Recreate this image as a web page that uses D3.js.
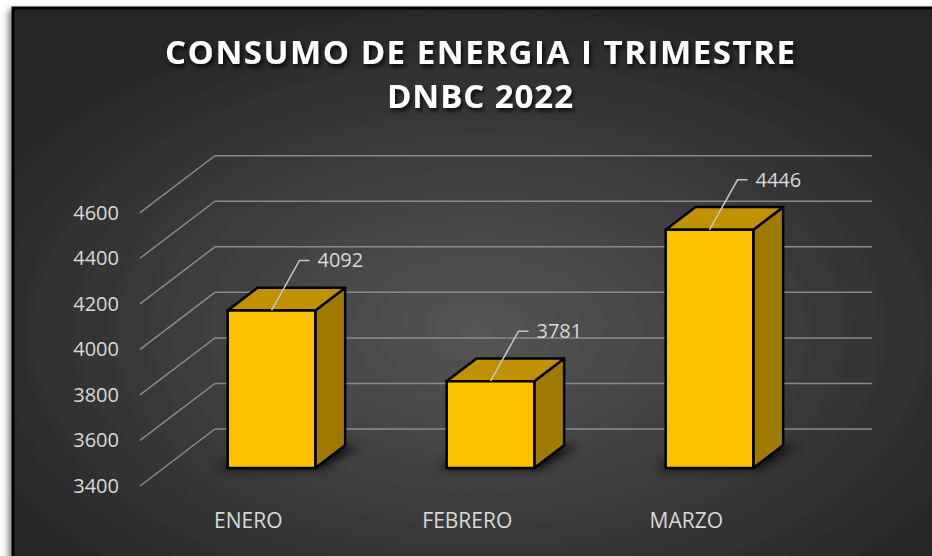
<!DOCTYPE html>
<html>
<head>
<meta charset="utf-8">
<script src="https://cdn.jsdelivr.net/npm/d3@7"></script>
<style>
  html, body { margin: 0; padding: 0; background: #fff; }
  svg { display: block; }
</style>
</head>
<body>
<svg id="chart" width="932" height="556"></svg>
<script>
// chart data
var categories = ["ENERO", "FEBRERO", "MARZO"];
var values = [4092, 3781, 4446];
var yTicks = [3400, 3600, 3800, 4000, 4200, 4400, 4600];
var titleLines = ["CONSUMO DE ENERGIA I TRIMESTRE", "DNBC 2022"];

var W = 932, H = 556;
var svg = d3.select("#chart");
var defs = svg.append("defs");

// background gradient
var grad = defs.append("radialGradient").attr("id", "bg")
    .attr("cx", "50%").attr("cy", "58%").attr("r", "62%");
grad.append("stop").attr("offset", "0%").attr("stop-color", "#555555");
grad.append("stop").attr("offset", "100%").attr("stop-color", "#252525");

var frameShadow = defs.append("filter").attr("id", "frameShadow")
    .attr("x", "-5%").attr("y", "-5%").attr("width", "110%").attr("height", "110%");
frameShadow.append("feDropShadow").attr("dx", -3).attr("dy", 3)
    .attr("stdDeviation", 3).attr("flood-color", "#000").attr("flood-opacity", 0.5);

var textShadow = defs.append("filter").attr("id", "textShadow")
    .attr("x", "-10%").attr("y", "-30%").attr("width", "120%").attr("height", "160%");
textShadow.append("feDropShadow").attr("dx", 2).attr("dy", 3)
    .attr("stdDeviation", 2).attr("flood-color", "#000").attr("flood-opacity", 0.8);

var barShadow = defs.append("filter").attr("id", "barShadow")
    .attr("x", "-30%").attr("y", "-60%").attr("width", "160%").attr("height", "220%");
barShadow.append("feGaussianBlur").attr("stdDeviation", 5);

// chart area frame
svg.append("rect")
    .attr("x", 13).attr("y", 8).attr("width", W).attr("height", H)
    .attr("fill", "url(#bg)")
    .attr("stroke", "#000").attr("stroke-width", 3)
    .attr("filter", "url(#frameShadow)");

// title
var titleWidths = [630, 186];
var title = svg.append("g").attr("filter", "url(#textShadow)");
title.selectAll("text")
    .data(titleLines)
    .enter().append("text")
    .attr("x", 480)
    .attr("y", function (d, i) { return 64 + i * 44; })
    .attr("text-anchor", "middle")
    .attr("fill", "#fff")
    .attr("font-family", "Open Sans, sans-serif")
    .attr("font-weight", "bold")
    .attr("font-size", 33)
    .attr("textLength", function (d, i) { return titleWidths[i]; })
    .attr("lengthAdjust", "spacing")
    .text(function (d) { return d; });

// scales (front plane of the 3D box)
var y = d3.scaleLinear().domain([3400, 4600]).range([486, 212.7]);
var x = d3.scaleBand().domain(categories).range([138.3, 795.3])
    .paddingInner(0.6).paddingOuter(0.3);
var depthX = 75, depthY = -57;
var wallLeft = 140, wallRight = 797;
var f1 = 0.316, f2 = 0.714; // bar front / back depth

function proj(px, v, f) {
    return [px + depthX * f, y(v) + depthY * f];
}

// gridlines: side wall diagonals + back wall horizontals
var grid = svg.append("g")
    .attr("stroke", "#8a8a8a").attr("stroke-width", 1.5).attr("fill", "none");
grid.selectAll("path")
    .data(yTicks)
    .enter().append("path")
    .attr("d", function (d) {
        return d3.line()([proj(wallLeft, d, 0), proj(wallLeft, d, 1), proj(wallRight, d, 1)]);
    });

// y tick labels
svg.append("g").selectAll("text")
    .data(yTicks)
    .enter().append("text")
    .attr("x", 119)
    .attr("y", function (d) { return y(d); })
    .attr("dy", "0.35em")
    .attr("text-anchor", "end")
    .attr("fill", "#d9d9d9")
    .attr("font-family", "Open Sans, sans-serif")
    .attr("font-size", 20)
    .text(function (d) { return d; });

// category labels
svg.append("g").selectAll("text")
    .data(categories)
    .enter().append("text")
    .attr("x", function (d) { return x(d) + x.bandwidth() / 2 + 0.5; })
    .attr("y", 521)
    .attr("dy", "0.35em")
    .attr("text-anchor", "middle")
    .attr("fill", "#d9d9d9")
    .attr("font-family", "Open Sans, sans-serif")
    .attr("font-size", 21)
    .text(function (d) { return d; });

var bars = categories.map(function (c, i) {
    return { cat: c, value: values[i], xa: x(c), xb: x(c) + x.bandwidth() };
});

var base = 3400;
var line = d3.line();

// soft shadows on the floor
svg.append("g").selectAll("path")
    .data(bars)
    .enter().append("path")
    .attr("d", function (d) {
        var p = [proj(d.xa - 12, base, f1 + 0.03), proj(d.xb + 4, base, f1 + 0.03),
                 proj(d.xb + 10, base, f2 + 0.05), proj(d.xa - 6, base, f2 + 0.05)];
        return line(p.map(function (q) { return [q[0], q[1] + 3]; })) + "Z";
    })
    .attr("fill", "#000").attr("opacity", 0.75)
    .attr("filter", "url(#barShadow)");

var barG = svg.append("g").selectAll("g")
    .data(bars)
    .enter().append("g")
    .attr("stroke", "#000").attr("stroke-width", 2.5).attr("stroke-linejoin", "round");

// side face
barG.append("path")
    .attr("d", function (d) {
        return line([proj(d.xb, base, f1), proj(d.xb, d.value, f1),
                     proj(d.xb, d.value, f2), proj(d.xb, base, f2)]) + "Z";
    })
    .attr("fill", "#a07a00");

// top face
barG.append("path")
    .attr("d", function (d) {
        return line([proj(d.xa, d.value, f1), proj(d.xb, d.value, f1),
                     proj(d.xb, d.value, f2), proj(d.xa, d.value, f2)]) + "Z";
    })
    .attr("fill", "#c09100");

// front face
barG.append("path")
    .attr("d", function (d) {
        return line([proj(d.xa, base, f1), proj(d.xb, base, f1),
                     proj(d.xb, d.value, f1), proj(d.xa, d.value, f1)]) + "Z";
    })
    .attr("fill", "#ffc000");

// data labels with leader lines
var labels = svg.append("g").selectAll("g")
    .data(bars)
    .enter().append("g");

labels.append("path")
    .attr("d", function (d) {
        var p = proj((d.xa + d.xb) / 2, d.value, f1);
        var k = [p[0] + 28, p[1] - 50];
        return line([p, k, [k[0] + 10, k[1]]]);
    })
    .attr("fill", "none").attr("stroke", "#c8c8c8").attr("stroke-width", 1.5);

labels.append("text")
    .attr("x", function (d) { return proj((d.xa + d.xb) / 2, d.value, f1)[0] + 46; })
    .attr("y", function (d) { return proj((d.xa + d.xb) / 2, d.value, f1)[1] - 50; })
    .attr("dy", "0.35em")
    .attr("fill", "#d9d9d9")
    .attr("font-family", "Open Sans, sans-serif")
    .attr("font-size", 20)
    .text(function (d) { return d.value; });
</script>
</body>
</html>
